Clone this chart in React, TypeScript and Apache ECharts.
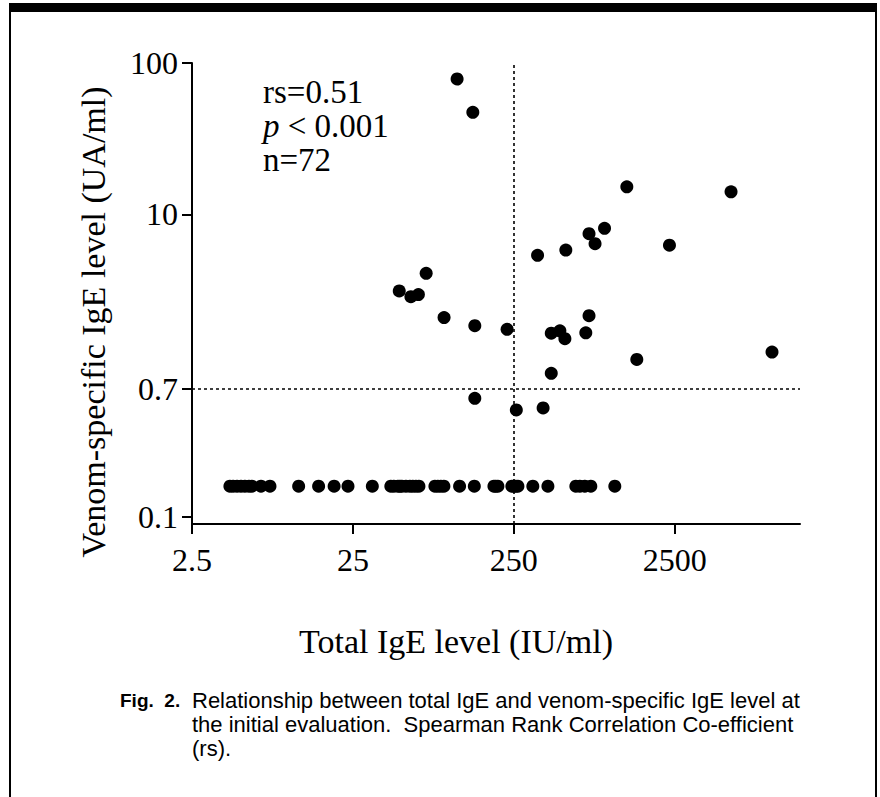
import React, { useEffect, useRef } from "react";
import * as echarts from "echarts";

// Axis tick values
const xTicks = [2.5, 25, 250, 2500];
const yTicks = [0.1, 0.7, 10, 100];

// Cut-off reference lines
const cutoffTotalIgE = 250;
const cutoffSpecificIgE = 0.7;

// Patients with measurable venom-specific IgE
const totalIgE = [111, 139, 71.3, 48.5, 57.3, 63.8, 92.1, 143, 227, 427, 483, 519, 700, 733, 351, 526, 733, 799, 915, 1259, 2317, 5593, 1452, 10050, 427, 143, 259, 380];
const specificIgE = [78.4, 47.2, 4.08, 3.12, 2.86, 2.95, 2.08, 1.84, 1.74, 1.64, 1.7, 1.51, 1.65, 2.14, 5.36, 5.81, 7.45, 6.4, 8.09, 15.2, 6.26, 14.1, 1.1, 1.23, 0.891, 0.609, 0.51, 0.526];

// Patients below detection (plotted on one low row)
const totalIgELow = [4.3, 4.5, 4.76, 5.04, 5.33, 5.65, 5.89, 6.71, 7.63, 11.5, 15.3, 19.1, 23.3, 33.0, 43.0, 44.9, 47.6, 49.0, 50.4, 53.4, 56.5, 58.9, 61.6, 64.3, 80.8, 84.3, 88.0, 91.9, 115, 142, 188, 193, 199, 243, 250, 257, 265, 328, 407, 607, 643, 690, 752, 1060];
const lowSpecificLevel = 0.16;

const statLines = ["rs=0.51", "{i|p} < 0.001", "n=72"];
const xTitle = "Total IgE level (IU/ml)";
const yTitle = "Venom-specific IgE level (UA/ml)";
const captionLabel = "Fig.  2.";
const captionLines = [
  "Relationship between total IgE and venom-specific IgE level at",
  "the initial evaluation.  Spearman Rank Correlation Co-efficient",
  "(rs).",
];

const SERIF = "'Liberation Serif', 'Times New Roman', serif";
const SANS = "'Liberation Sans', Arial, sans-serif";

export default function App() {
  const ref = useRef<HTMLDivElement>(null);
  useEffect(() => {
    if (!ref.current) return;
    const chart = echarts.init(ref.current, null, { renderer: "svg" });
    const mainData = totalIgE.map((x, i) => [x, specificIgE[i]]);
    const lowData = totalIgELow.map((x) => [x, lowSpecificLevel]);
    const axisCommon = {
      type: "log" as const,
      logBase: 10,
      axisLine: { show: true, lineStyle: { color: "#000", width: 2 } },
      splitLine: { show: false },
      minorTick: { show: false },
    };
    chart.setOption({
      animation: false,
      backgroundColor: "#fff",
      grid: { left: 192, top: 63, width: 608, height: 461 },
      xAxis: {
        ...axisCommon,
        min: 2.5,
        max: 15000,
        axisTick: { show: true, length: 10, customValues: xTicks, lineStyle: { color: "#000", width: 2 } },
        axisLabel: {
          customValues: xTicks,
          formatter: (v: number) => String(v),
          color: "#000",
          fontFamily: SERIF,
          fontSize: 32,
          margin: 20,
        },
      },
      yAxis: {
        ...axisCommon,
        min: 0.09,
        max: 100,
        axisTick: { show: true, length: 10, customValues: yTicks, lineStyle: { color: "#000", width: 2 } },
        axisLabel: {
          customValues: yTicks,
          formatter: (v: number) => String(v),
          color: "#000",
          fontFamily: SERIF,
          fontSize: 32,
          margin: 14,
        },
      },
      series: [
        {
          type: "scatter",
          data: mainData,
          symbol: "circle",
          symbolSize: 13,
          itemStyle: { color: "#000", opacity: 1 },
          markLine: {
            silent: true,
            symbol: "none",
            label: { show: false },
            lineStyle: { color: "#000", width: 1.6, type: [3, 3], opacity: 1 },
            data: [{ xAxis: cutoffTotalIgE }, { yAxis: cutoffSpecificIgE }],
          },
        },
        {
          type: "scatter",
          data: lowData,
          symbol: "circle",
          symbolSize: 13,
          itemStyle: { color: "#000", opacity: 1 },
        },
      ],
      graphic: [
        { type: "rect", shape: { x: 9, y: 3, width: 868, height: 9 }, style: { fill: "#000" } },
        { type: "rect", shape: { x: 9, y: 3, width: 2, height: 794 }, style: { fill: "#000" } },
        { type: "rect", shape: { x: 875, y: 3, width: 2, height: 794 }, style: { fill: "#000" } },
        ...statLines.map((t, i) => ({
          type: "text",
          x: 263,
          y: 92 + i * 34,
          style: {
            text: t,
            font: `33px ${SERIF}`,
            fill: "#000",
            textVerticalAlign: "middle",
            rich: { i: { fontStyle: "italic", fontSize: 33, fontFamily: SERIF } },
          },
        })),
        {
          type: "text",
          x: 456,
          y: 641,
          style: { text: xTitle, font: `34px ${SERIF}`, fill: "#000", textAlign: "center", textVerticalAlign: "middle" },
        },
        {
          type: "text",
          x: 93,
          y: 322,
          rotation: Math.PI / 2,
          style: { text: yTitle, font: `34px ${SERIF}`, fill: "#000", textAlign: "center", textVerticalAlign: "middle" },
        },
        {
          type: "text",
          x: 120,
          y: 700,
          style: { text: captionLabel, font: `bold 19px ${SANS}`, fill: "#000", textVerticalAlign: "middle" },
        },
        ...captionLines.map((t, i) => ({
          type: "text",
          x: 192,
          y: 700 + i * 24,
          style: { text: t, font: `22px ${SANS}`, fill: "#000", textVerticalAlign: "middle" },
        })),
      ],
    });
    return () => chart.dispose();
  }, []);
  return (
    <div
      ref={ref}
      style={{ position: "fixed", left: 0, top: 0, width: 880, height: 797, background: "#fff" }}
    />
  );
}
